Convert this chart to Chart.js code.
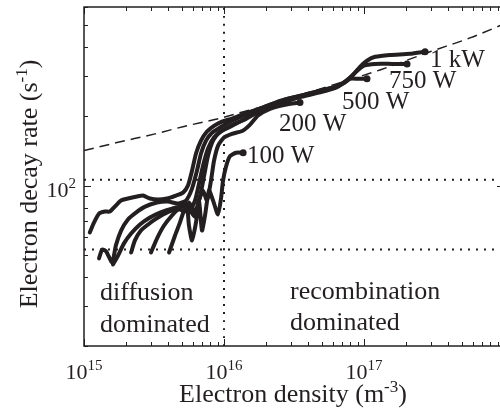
<!DOCTYPE html>
<html>
<head>
<meta charset="utf-8">
<script src="https://cdn.jsdelivr.net/npm/chart.js@4.4.0/dist/chart.umd.min.js"></script>
<style>
  html, body { margin: 0; padding: 0; background: #fff; overflow: hidden; }
  #wrap { width: 500px; height: 410px; overflow: hidden; }
</style>
</head>
<body>
<div id="wrap"><canvas id="c" width="510" height="410"></canvas></div>
<script>
(function () {
  'use strict';

  // ── Data: [electron density (m^-3), decay rate (s^-1)] ──
  const xTickExps = [15, 16, 17];
  const yTickExps = [2];

  const curve1kW = [
    [1.10e15, 62.5], [1.18e15, 69.1], [1.28e15, 75.5], [1.41e15, 77.1], [1.53e15, 77.1],
    [1.69e15, 81.9], [1.84e15, 86.1], [2.06e15, 87.8], [2.39e15, 89.6], [2.64e15, 90.5],
    [2.96e15, 87.8], [3.38e15, 86.9], [3.92e15, 87.8], [4.54e15, 90.5], [5.10e15, 93.2],
    [5.53e15, 100], [5.91e15, 116], [6.31e15, 138], [6.85e15, 157], [7.56e15, 172],
    [8.48e15, 182], [9.68e15, 190], [1.14e16, 196], [1.41e16, 206], [1.87e16, 218],
    [2.51e16, 234], [3.49e16, 246], [4.85e16, 259], [6.21e16, 269], [7.32e16, 283],
    [8.35e16, 304], [9.36e16, 329], [1.05e17, 350], [1.20e17, 364], [1.53e17, 371],
    [2.13e17, 375], [2.73e17, 383]
  ];
  const curve750W = [
    [1.28e15, 48.2], [1.35e15, 52.7], [1.44e15, 51.6], [1.59e15, 46.3], [1.69e15, 54.9],
    [1.84e15, 63.7], [2.06e15, 71.2], [2.35e15, 76.3], [2.73e15, 81.0], [3.32e15, 84.4],
    [3.98e15, 85.2], [4.69e15, 83.5], [5.35e15, 86.1], [5.91e15, 97.0], [6.41e15, 116],
    [6.85e15, 138], [7.44e15, 157], [8.21e15, 170], [9.36e15, 179], [1.14e16, 192],
    [1.48e16, 206], [1.96e16, 221], [2.73e16, 237], [3.79e16, 249], [5.27e16, 262],
    [6.74e16, 275], [7.94e16, 295], [8.91e16, 316], [1.00e17, 333], [1.20e17, 339],
    [1.59e17, 339], [2.03e17, 339]
  ];
  const curveExtra = [
    [1.61e15, 45.3], [1.75e15, 49.6], [1.93e15, 56.0], [2.17e15, 61.8], [2.51e15, 67.7],
    [2.96e15, 72.6], [3.49e15, 76.3], [4.25e15, 79.4], [5.10e15, 81.0], [5.62e15, 76.3],
    [6.21e15, 86.1], [6.63e15, 102], [7.08e15, 122], [7.69e15, 145], [8.48e15, 162],
    [9.68e15, 173], [1.14e16, 184], [1.41e16, 194], [1.87e16, 214], [2.73e16, 232],
    [4.11e16, 251], [6.21e16, 267]
  ];
  const curve500W = [
    [2.17e15, 51.1], [2.31e15, 57.7], [2.55e15, 63.7], [2.87e15, 67.7], [3.22e15, 71.2],
    [3.67e15, 74.8], [4.25e15, 77.9], [4.85e15, 78.6], [5.27e15, 77.1], [5.62e15, 84.4],
    [6.21e15, 77.1], [6.74e15, 89.6], [7.20e15, 110], [7.69e15, 135], [8.35e15, 157],
    [9.36e15, 172], [1.10e16, 180], [1.30e16, 190], [1.59e16, 204], [1.96e16, 216],
    [2.60e16, 232], [3.61e16, 244], [5.01e16, 256], [6.31e16, 267], [7.20e16, 280],
    [7.94e16, 292], [9.06e16, 292], [1.05e17, 292]
  ];
  const curve200W = [
    [3.01e15, 51.1], [3.32e15, 58.8], [3.73e15, 67.0], [4.25e15, 74.1], [4.85e15, 80.2],
    [5.35e15, 83.5], [5.62e15, 79.4], [6.21e15, 73.3], [6.63e15, 86.1], [7.08e15, 95.1],
    [7.56e15, 86.1], [8.07e15, 105], [8.48e15, 128], [9.06e15, 149], [1.00e16, 162],
    [1.14e16, 168], [1.35e16, 173], [1.53e16, 184], [1.75e16, 202], [2.13e16, 216],
    [2.73e16, 225], [3.49e16, 230]
  ];
  const curve100W = [
    [4.05e15, 51.1], [4.47e15, 60.6], [4.85e15, 69.1], [5.18e15, 77.9], [5.44e15, 81.9],
    [5.62e15, 67.0], [5.91e15, 57.7], [6.31e15, 69.1], [6.63e15, 86.1], [6.96e15, 63.7],
    [7.32e15, 74.1], [7.81e15, 95.1], [8.35e15, 86.1], [9.06e15, 74.8], [9.52e15, 87.8],
    [9.84e15, 105], [1.03e16, 120], [1.10e16, 134], [1.22e16, 139], [1.37e16, 139]
  ];
  const boundaryCurve = [
    [1e15, 142], [1.72e15, 154], [3.22e15, 168], [5.18e15, 181], [9.84e15, 198],
    [1.46e16, 212], [2.13e16, 225], [5.71e16, 272], [1.30e17, 319], [2.96e17, 383],
    [5.72e17, 440], [1e18, 506]
  ];
  const dottedRates = [106, 52.7];
  const dottedDensity = 1e16;

  const powerLabels = ['1 kW', '750 W', '500 W', '200 W', '100 W'];

  // ── Style / layout ──────────────────────────────────
  const INK = '#231f20';
  const SERIF = "'Liberation Serif', 'Times New Roman', serif";
  const labelPos = [[430, 67], [389, 88], [342, 109], [279, 131], [247, 163]];

  function xy(pairs) { return pairs.map(function (p) { return { x: p[0], y: p[1] }; }); }

  function curve(pairs, marker) {
    const last = pairs.length - 1;
    return {
      data: xy(pairs),
      showLine: true,
      borderColor: INK,
      backgroundColor: INK,
      borderWidth: 4,
      borderJoinStyle: 'round',
      borderCapStyle: 'round',
      tension: 0.2,
      pointRadius: function (c) { return marker && c.dataIndex === last ? 3.5 : 0; },
      pointBorderWidth: 0,
      order: 0
    };
  }

  function refLine(pairs, dash, width) {
    return {
      data: xy(pairs),
      showLine: true,
      borderColor: INK,
      borderWidth: width,
      borderDash: dash,
      pointRadius: 0,
      cubicInterpolationMode: 'monotone',
      order: 1
    };
  }

  const datasets = [
    curve(curve1kW, true),
    curve(curve750W, true),
    curve(curveExtra, false),
    curve(curve500W, true),
    curve(curve200W, true),
    curve(curve100W, true),
    refLine(boundaryCurve, [10, 6], 1.5),
    refLine([[1e15, dottedRates[0]], [1e18, dottedRates[0]]], [2, 6], 2),
    refLine([[1e15, dottedRates[1]], [1e18, dottedRates[1]]], [2, 6], 2),
    refLine([[dottedDensity, 20], [dottedDensity, 600]], [2, 6], 2)
  ];

  // text with superscript; align: 'center' | 'right' | 'left'
  function supText(ctx, base, sup, x, y, size, supSize, rise, align, tail) {
    ctx.font = size + 'px ' + SERIF;
    const wb = ctx.measureText(base).width;
    const wt = tail ? ctx.measureText(tail).width : 0;
    ctx.font = supSize + 'px ' + SERIF;
    const ws = ctx.measureText(sup).width;
    const total = wb + ws + wt;
    let x0 = x;
    if (align === 'center') x0 = x - total / 2;
    else if (align === 'right') x0 = x - total;
    ctx.textAlign = 'left';
    ctx.textBaseline = 'alphabetic';
    ctx.font = size + 'px ' + SERIF;
    ctx.fillText(base, x0, y);
    ctx.font = supSize + 'px ' + SERIF;
    ctx.fillText(sup, x0 + wb, y - rise);
    if (tail) {
      ctx.font = size + 'px ' + SERIF;
      ctx.fillText(tail, x0 + wb + ws, y);
    }
  }

  const frame = {
    id: 'frame',
    afterDraw: function (chart) {
      const ctx = chart.ctx;
      const a = chart.chartArea;
      const x = chart.scales.x;
      const y = chart.scales.y;
      ctx.save();
      ctx.strokeStyle = INK;
      ctx.fillStyle = INK;

      // inward ticks
      ctx.lineWidth = 1;
      ctx.beginPath();
      for (let e = 15; e < 18; e++) {
        for (let k = 1; k < 10; k++) {
          const px = Math.round(x.getPixelForValue(k * Math.pow(10, e))) + 0.5;
          const len = k === 1 ? 7 : 4;
          ctx.moveTo(px, a.bottom); ctx.lineTo(px, a.bottom - len);
          ctx.moveTo(px, a.top); ctx.lineTo(px, a.top + len);
        }
      }
      for (let e = 1; e < 3; e++) {
        for (let k = 1; k < 10; k++) {
          const v = k * Math.pow(10, e);
          if (v < 20 || v > 600) continue;
          const py = Math.round(y.getPixelForValue(v)) + 0.5;
          const len = k === 1 ? 7 : 4;
          ctx.moveTo(a.left, py); ctx.lineTo(a.left + len, py);
          ctx.moveTo(a.right, py); ctx.lineTo(a.right - len, py);
        }
      }
      ctx.stroke();

      // frame
      ctx.lineWidth = 1.5;
      ctx.strokeRect(a.left, a.top, a.right - a.left, a.bottom - a.top);

      // tick labels
      xTickExps.forEach(function (e) {
        supText(ctx, '10', String(e), x.getPixelForValue(Math.pow(10, e)), 379, 22, 15, 9, 'center');
      });
      yTickExps.forEach(function (e) {
        supText(ctx, '10', String(e), 76, y.getPixelForValue(Math.pow(10, e)) + 11, 22, 15, 9, 'right');
      });

      // axis titles
      supText(ctx, 'Electron density (m', '-3', 293, 402, 26, 17, 10, 'center', ')');
      ctx.save();
      ctx.translate(37, 184);
      ctx.rotate(-Math.PI / 2);
      supText(ctx, 'Electron decay rate (s', '-1', 0, 0, 26, 17, 10, 'center', ')');
      ctx.restore();

      // power labels
      ctx.font = '25px ' + SERIF;
      ctx.textAlign = 'left';
      ctx.textBaseline = 'alphabetic';
      powerLabels.forEach(function (t, i) {
        ctx.fillText(t, labelPos[i][0], labelPos[i][1]);
      });

      // regime labels
      ctx.font = '26px ' + SERIF;
      ctx.fillText('diffusion', 100, 300);
      ctx.fillText('dominated', 100, 332);
      ctx.fillText('recombination', 290, 299);
      ctx.fillText('dominated', 290, 330);
      ctx.restore();
    }
  };

  new Chart(document.getElementById('c'), {
    type: 'scatter',
    data: { datasets: datasets },
    options: {
      responsive: false,
      animation: false,
      events: [],
      layout: { padding: { left: 84, top: 7, right: 6, bottom: 64 } },
      plugins: { legend: { display: false }, tooltip: { enabled: false } },
      scales: {
        x: { type: 'logarithmic', min: 1e15, max: 1e18, display: false },
        y: { type: 'logarithmic', min: 20, max: 600, display: false }
      }
    },
    plugins: [frame]
  });
})();
</script>
</body>
</html>
